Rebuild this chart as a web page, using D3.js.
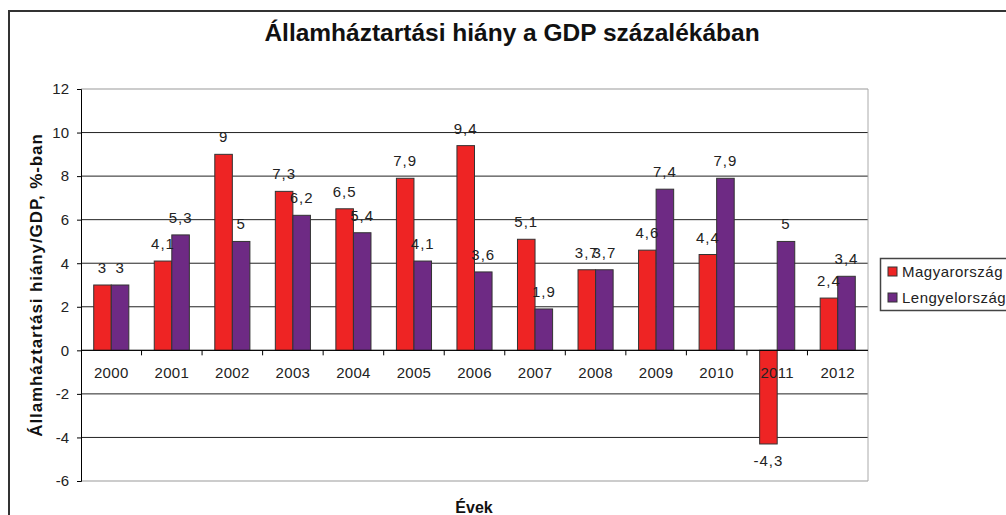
<!DOCTYPE html>
<html><head><meta charset="utf-8">
<script src="https://cdn.jsdelivr.net/npm/d3@7"></script>
<style>body{margin:0;background:#fff}text{font-family:"Liberation Sans",Arial,sans-serif}</style>
</head><body><svg id="c" width="1006" height="515"></svg>
<script>
const years = ["2000","2001","2002","2003","2004","2005","2006","2007","2008","2009","2010","2011","2012"];
const hungary = [3,4.1,9,7.3,6.5,7.9,9.4,5.1,3.7,4.6,4.4,-4.3,2.4];
const poland = [3,5.3,5,6.2,5.4,4.1,3.6,1.9,3.7,7.4,7.9,5,3.4];
const seriesNames = ["Magyarország","Lengyelország"];
const colors = ["#EE2424","#6E2A84"];
const yTicks = [-6,-4,-2,0,2,4,6,8,10,12];

const svg = d3.select("#c");
// outer frame
svg.append("rect").attr("x",9).attr("y",11).attr("width",1100).attr("height",600)
  .attr("fill","none").attr("stroke","#333").attr("stroke-width",2);

const L=81, R=868, T=89, B=481;
const y = d3.scaleLinear().domain([-6,12]).range([B,T]);
const x = d3.scaleBand().domain(years).range([L,R]).paddingInner(0.42).paddingOuter(0.21);
const xs = d3.scaleBand().domain([0,1]).range([0,x.bandwidth()]);

// gridlines
svg.append("g").selectAll("line").data(yTicks).join("line")
  .attr("x1",L).attr("x2",R).attr("y1",d=>y(d)).attr("y2",d=>y(d))
  .attr("stroke",d=>(d===12||d===-6)?"#999":"#222").attr("stroke-width",1);
// right border
svg.append("line").attr("x1",R).attr("x2",R).attr("y1",T).attr("y2",B).attr("stroke","#aaa");

// y axis
const ya = svg.append("g").attr("transform",`translate(${L},0)`)
  .call(d3.axisLeft(y).tickValues(yTicks).tickSize(4).tickPadding(8).tickFormat(d=>String(d)));
ya.select(".domain").attr("stroke","#000");
ya.selectAll("text").attr("font-size",15).attr("fill","#222").attr("font-family","Liberation Sans, Arial");

// bars
const data = [hungary, poland];
data.forEach((arr,si)=>{
  svg.append("g").selectAll("rect").data(arr).join("rect")
    .attr("x",(d,i)=>x(years[i])+xs(si))
    .attr("width",xs.bandwidth())
    .attr("y",d=>d>=0?y(d):y(0))
    .attr("height",d=>Math.abs(y(d)-y(0)))
    .attr("fill",colors[si]).attr("stroke","#333").attr("stroke-width",1);
});

// x axis at zero
const step = x.step();
svg.append("line").attr("x1",L).attr("x2",R).attr("y1",y(0)).attr("y2",y(0)).attr("stroke","#000");
svg.append("g").selectAll("line").data(years.slice(1)).join("line")
  .attr("x1",d=>x(d)-x.paddingInner()*step/2).attr("x2",d=>x(d)-x.paddingInner()*step/2)
  .attr("y1",y(0)).attr("y2",y(0)+5).attr("stroke","#000");
svg.append("g").selectAll("text").data(years).join("text")
  .attr("x",d=>x(d)+x.bandwidth()/2).attr("y",y(0)+28)
  .attr("text-anchor","middle").attr("font-size",15).attr("letter-spacing","0.3px").attr("fill","#222").text(d=>d);

// value labels
const fmt = v => String(v).replace(".",",");
data.forEach((arr,si)=>{
  svg.append("g").selectAll("text").data(arr).join("text")
    .attr("x",(d,i)=>x(years[i])+xs(si)+xs.bandwidth()/2)
    .attr("y",d=>d>=0?y(d)-12:y(d)+22)
    .attr("text-anchor","middle").attr("font-size",15).attr("letter-spacing","1px")
    .attr("fill","#222").text(d=>fmt(d));
});

// title
svg.append("text").attr("x",512).attr("y",41).attr("text-anchor","middle")
  .attr("font-size",24.5).attr("font-weight","bold").attr("fill","#111")
  .text("Államháztartási hiány a GDP százalékában");
// y title
svg.append("text").attr("transform",`translate(42,285) rotate(-90)`)
  .attr("text-anchor","middle").attr("font-size",17).attr("letter-spacing","0.9px")
  .attr("font-weight","bold").attr("fill","#111")
  .text("Államháztartási hiány/GDP, %-ban");
// x title
svg.append("text").attr("x",474).attr("y",513).attr("text-anchor","middle")
  .attr("font-size",16).attr("font-weight","bold").attr("fill","#111").text("Évek");

// legend
const lg = svg.append("g");
lg.append("rect").attr("x",880.5).attr("y",258.5).attr("width",140).attr("height",52)
  .attr("fill","#fff").attr("stroke","#444").attr("stroke-width",1.5);
seriesNames.forEach((n,i)=>{
  lg.append("rect").attr("x",888).attr("y",267+i*26).attr("width",9).attr("height",9)
    .attr("fill",colors[i]).attr("stroke","#333");
  lg.append("text").attr("x",902).attr("y",277+i*26).attr("font-size",15).attr("letter-spacing","0.5px")
    .attr("fill","#222").text(n);
});
</script></body></html>
